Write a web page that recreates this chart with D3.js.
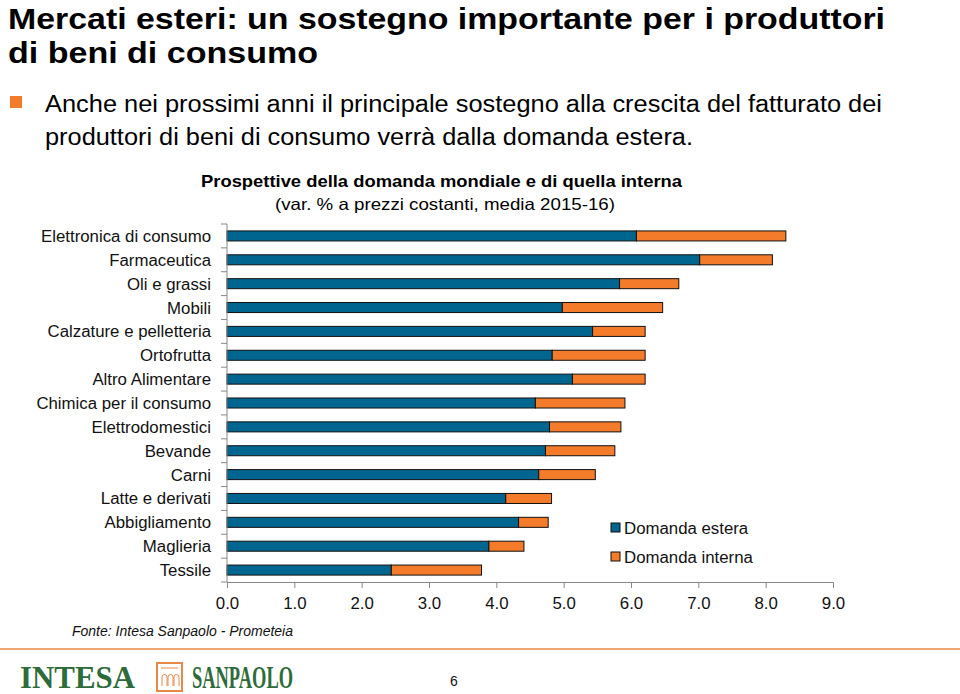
<!DOCTYPE html>
<html><head><meta charset="utf-8">
<script src="https://cdn.jsdelivr.net/npm/d3@7"></script>
<style>body{margin:0;background:#fff}svg{display:block;font-family:"Liberation Sans",Arial,sans-serif}</style>
</head><body>
<script>
const categories = ["Elettronica di consumo","Farmaceutica","Oli e grassi","Mobili","Calzature e pelletteria","Ortofrutta","Altro Alimentare","Chimica per il consumo","Elettrodomestici","Bevande","Carni","Latte e derivati","Abbigliamento","Maglieria","Tessile"];
const domandaEstera = [6.08,7.02,5.83,4.98,5.43,4.83,5.13,4.58,4.79,4.73,4.63,4.14,4.33,3.89,2.44];
const domandaInterna = [2.22,1.08,0.88,1.49,0.78,1.38,1.08,1.33,1.06,1.03,0.84,0.68,0.44,0.52,1.34];
const xTicks = [0,1,2,3,4,5,6,7,8,9];
const seriesNames = ["Domanda estera","Domanda interna"];
const colors = ["#006690","#f47b2a"];

const W=960,H=694;
const svg=d3.select("body").append("svg").attr("width",W).attr("height",H);

function stretch(sel,f){
  sel.each(function(){const w=this.getComputedTextLength();d3.select(this).attr("textLength",w*f).attr("lengthAdjust","spacingAndGlyphs");});
  return sel;
}
function fit(sel,w){return sel.attr("textLength",w).attr("lengthAdjust","spacingAndGlyphs");}

// Header
fit(svg.append("text").attr("x",8).attr("y",29).attr("font-size",30).attr("font-weight","bold").text("Mercati esteri: un sostegno importante per i produttori"),877);
fit(svg.append("text").attr("x",8).attr("y",63).attr("font-size",30).attr("font-weight","bold").text("di beni di consumo"),310);
svg.append("rect").attr("x",10).attr("y",96).attr("width",12).attr("height",12).attr("fill","#f47b2a");
fit(svg.append("text").attr("x",45).attr("y",112).attr("font-size",23).text("Anche nei prossimi anni il principale sostegno alla crescita del fatturato dei"),837);
fit(svg.append("text").attr("x",45).attr("y",145).attr("font-size",23).text("produttori di beni di consumo verrà dalla domanda estera."),648);

// Chart titles
fit(svg.append("text").attr("x",201).attr("y",187).attr("font-size",17).attr("font-weight","bold").text("Prospettive della domanda mondiale e di quella interna"),481);
fit(svg.append("text").attr("x",275).attr("y",210).attr("font-size",16.5).text("(var. % a prezzi costanti, media 2015-16)"),340);

const x=d3.scaleLinear().domain([0,9]).range([227,833]);
const y=d3.scaleBand().domain(categories).range([224,582]).paddingInner(0.58).paddingOuter(0.29);

// bars
const data=categories.map((c,i)=>({c,e:domandaEstera[i],n:domandaInterna[i]}));
const g=svg.append("g");
g.selectAll("rect.e").data(data).join("rect").attr("class","e")
 .attr("x",x(0)).attr("y",d=>y(d.c)).attr("width",d=>x(d.e)-x(0)).attr("height",y.bandwidth())
 .attr("fill",colors[0]).attr("stroke","#111").attr("stroke-width",1);
g.selectAll("rect.n").data(data).join("rect").attr("class","n")
 .attr("x",d=>x(d.e)).attr("y",d=>y(d.c)).attr("width",d=>x(d.e+d.n)-x(d.e)).attr("height",y.bandwidth())
 .attr("fill",colors[1]).attr("stroke","#111").attr("stroke-width",1);

// y axis
const ya=svg.append("g");
ya.append("line").attr("x1",227).attr("x2",227).attr("y1",224).attr("y2",582).attr("stroke","#888");
d3.range(categories.length+1).forEach(i=>{
  const yy=224+i*(358/categories.length);
  ya.append("line").attr("x1",221).attr("x2",227).attr("y1",yy).attr("y2",yy).attr("stroke","#888");
});
stretch(ya.selectAll("text").data(categories).join("text").attr("x",211).attr("y",d=>y(d)+y.bandwidth()/2+6)
 .attr("text-anchor","end").attr("font-size",16).attr("fill","#111").text(d=>d),1.05);

// x axis
const xa=svg.append("g").attr("transform","translate(0,582)")
 .call(d3.axisBottom(x).tickValues(xTicks).tickFormat(d3.format(".1f")).tickSize(6).tickPadding(10));
xa.select(".domain").attr("stroke","#888");
xa.selectAll(".tick line").attr("stroke","#888");
stretch(xa.selectAll(".tick text").attr("font-size",16).attr("fill","#111").attr("font-family","Liberation Sans, Arial, sans-serif"),1.05);

// legend
seriesNames.forEach((s,i)=>{
  const ly=528+i*29;
  svg.append("rect").attr("x",611).attr("y",ly-5).attr("width",9).attr("height",9).attr("fill",colors[i]).attr("stroke","#111");
  stretch(svg.append("text").attr("x",624).attr("y",ly+6).attr("font-size",16).attr("fill","#111").text(s),1.05);
});

// source
svg.append("text").attr("x",72).attr("y",636).attr("font-size",14).attr("font-style","italic").attr("fill","#111").text("Fonte: Intesa Sanpaolo - Prometeia");

// footer
svg.append("line").attr("x1",0).attr("x2",960).attr("y1",649).attr("y2",649).attr("stroke","#e8894a").attr("stroke-width",1.5);
fit(svg.append("text").attr("x",20).attr("y",688).attr("font-size",32).attr("font-weight","bold").attr("font-family","Liberation Serif, serif").attr("fill","#2e6b3a").text("INTESA"),115);
svg.append("rect").attr("x",157).attr("y",663).attr("width",25).attr("height",28).attr("fill","#fff").attr("stroke","#e8894a").attr("stroke-width",2);
svg.append("path").attr("d","M162,686 v-9 a2.5,2.5 0 0 1 5,0 v9 M168,686 v-9 a2.5,2.5 0 0 1 5,0 v9 M174,686 v-9 a2.5,2.5 0 0 1 5,0 v9").attr("fill","none").attr("stroke","#e8894a").attr("stroke-width",1);
svg.append("line").attr("x1",161).attr("x2",178).attr("y1",668).attr("y2",668).attr("stroke","#e8894a");
fit(svg.append("text").attr("x",192).attr("y",688).attr("font-size",32).attr("font-weight","bold").attr("font-family","Liberation Serif, serif").attr("fill","#2e6b3a").text("SANPAOLO"),101);
svg.append("text").attr("x",454).attr("y",686).attr("font-size",14).attr("text-anchor","middle").attr("fill","#111").text("6");
</script>
</body></html>
